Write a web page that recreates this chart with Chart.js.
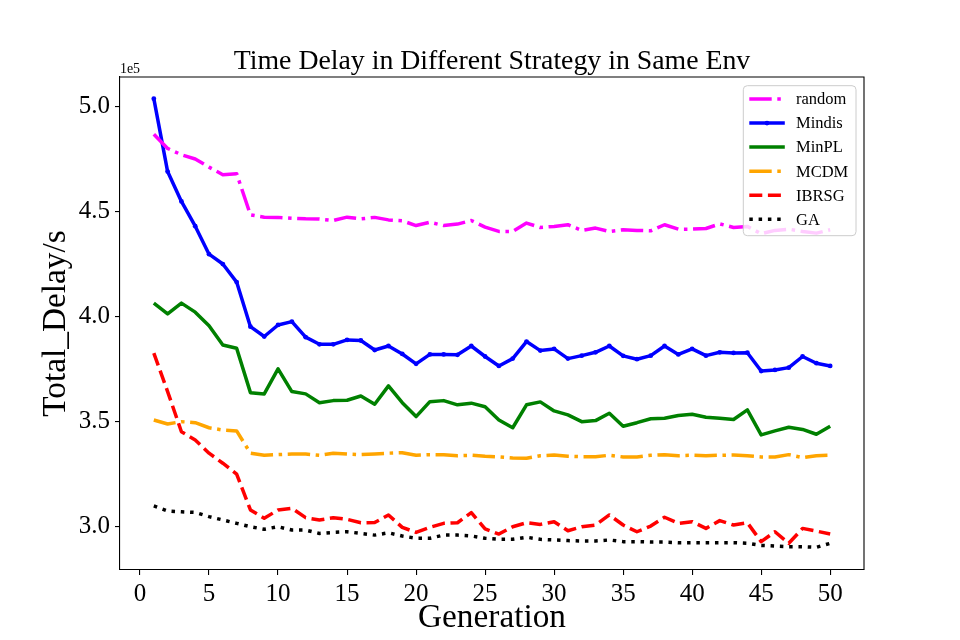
<!DOCTYPE html>
<html>
<head>
<meta charset="utf-8">
<script src="https://cdn.jsdelivr.net/npm/chart.js@4"></script>
<style>body{margin:0;background:#fff}</style>
</head>
<body>
<canvas id="chart" width="960" height="640"></canvas>
<script>
const titleText = 'Time Delay in Different Strategy in Same Env';
const generations = [1, 2, 3, 4, 5, 6, 7, 8, 9, 10, 11, 12, 13, 14, 15, 16, 17, 18, 19, 20,
	21, 22, 23, 24, 25, 26, 27, 28, 29, 30, 31, 32, 33, 34, 35, 36, 37, 38, 39, 40,
	41, 42, 43, 44, 45, 46, 47, 48, 49, 50];
const xTicks = [0, 5, 10, 15, 20, 25, 30, 35, 40, 45, 50];
const yTicks = [300000, 350000, 400000, 450000, 500000];

const random = [486800, 480000, 477000, 475000, 471100, 467500, 468000, 448400, 447300, 447200,
	446800, 446500, 446400, 445700, 447300, 446500, 447200, 446000, 445600, 443300,
	444900, 443300, 444000, 445700, 442600, 440500, 440500, 444500, 442400, 442900,
	443700, 441000, 442100, 440500, 441300, 441000, 440800, 443700, 441600, 441600,
	441900, 444100, 442400, 442900, 439400, 441000, 441600, 440500, 439700, 441300];
const mindis = [503700, 469000, 454800, 443000, 429700, 425000, 416400, 395200, 390500, 396000,
	397600, 390200, 386800, 386800, 388900, 388600, 384100, 386000, 382200, 377500,
	382000, 382000, 381800, 386000, 381000, 376500, 380000, 388100, 383800, 384600,
	380000, 381400, 383000, 386000, 381300, 379700, 381400, 386000, 382000, 384600,
	381400, 383000, 382700, 382800, 374100, 374600, 375700, 381000, 377800, 376500];
const minpl = [406400, 401300, 406400, 402100, 395600, 386500, 384900, 363800, 363200, 375100,
	364300, 363200, 359000, 360000, 360200, 362200, 358300, 367000, 359000, 352400,
	359500, 360000, 358000, 358800, 357100, 350800, 347100, 358000, 359400, 355100,
	353200, 350000, 350500, 354000, 347800, 349500, 351400, 351600, 352900, 353500,
	352100, 351600, 351000, 355600, 343700, 345600, 347300, 346300, 344000, 347800];
const mcdm = [350800, 348900, 350000, 349500, 347100, 346000, 345600, 335000, 334000, 334300,
	334600, 334600, 334000, 335000, 334600, 334300, 334600, 335000, 335200, 334000,
	334300, 334300, 333800, 334000, 333500, 333200, 332700, 332600, 333800, 334100,
	333500, 333300, 333300, 334000, 333200, 333200, 334000, 334300, 333800, 334000,
	333800, 334000, 334100, 333800, 333200, 333200, 334300, 332900, 333800, 334000];
const ibrsg = [382600, 364300, 345200, 341300, 335000, 330200, 325000, 308000, 304000, 308000,
	308800, 304300, 303200, 304300, 303500, 301900, 302000, 305600, 299700, 297300,
	299700, 301600, 301900, 306700, 299000, 296500, 300000, 301900, 301100, 302400,
	298100, 300000, 300800, 305600, 300800, 297600, 300300, 304500, 301600, 302400,
	299200, 302900, 300800, 301900, 292900, 297600, 292100, 299200, 297900, 296500];
const ga = [309900, 307500, 307100, 306800, 304800, 303200, 301600, 300000, 298800, 300000,
	298400, 298400, 296800, 297300, 297600, 296800, 296000, 297100, 295600, 294500,
	294500, 296000, 296000, 295600, 294500, 294000, 294000, 295000, 294000, 293700,
	293400, 293200, 293200, 293700, 292900, 292900, 292700, 292700, 292400, 292400,
	292400, 292400, 292400, 292100, 291100, 290800, 290500, 290500, 290200, 292100];

const serif = '"Liberation Serif", "Times New Roman", serif';

function pts(values) {
	return generations.map((g, i) => ({ x: g, y: values[i] }));
}

function serie(label, values, color, dash) {
	return {
		label: label,
		data: pts(values),
		borderColor: color,
		backgroundColor: color,
		borderWidth: 3.5,
		borderDash: dash,
		borderJoinStyle: 'round',
		pointRadius: 0,
		tension: 0,
	};
}

const datasets = [
	serie('random', random, '#ff00ff', [22.4, 5.6, 3.5, 5.6]),
	Object.assign(serie('Mindis', mindis, '#0000ff', []), { pointRadius: 2.4, pointBorderWidth: 0 }),
	serie('MinPL', minpl, '#008000', []),
	serie('MCDM', mcdm, '#ffa500', [22.4, 5.6, 3.5, 5.6]),
	serie('IBRSG', ibrsg, '#ff0000', [13, 5.6]),
	serie('GA', ga, '#000000', [3.5, 5.8]),
];

// axes frame, title, offset text and legend, drawn like matplotlib
const decor = {
	id: 'decor',
	afterDraw(chart) {
		const { ctx, chartArea: a } = chart;
		ctx.save();
		ctx.strokeStyle = '#000';
		ctx.lineWidth = 1.1;
		ctx.beginPath();
		ctx.moveTo(a.left, a.top);
		ctx.lineTo(a.right, a.top);
		ctx.lineTo(a.right, a.bottom);
		ctx.stroke();

		ctx.fillStyle = '#000';
		ctx.textAlign = 'center';
		ctx.textBaseline = 'alphabetic';
		ctx.font = '27.8px ' + serif;
		ctx.fillText(titleText, (a.left + a.right) / 2, a.top - 8.5);

		ctx.textAlign = 'left';
		ctx.font = '13.9px ' + serif;
		ctx.fillText('1e5', a.left, a.top - 4);

		const x0 = a.right - 120.7, y0 = a.top + 8.7, w = 112.7, h = 150;
		ctx.beginPath();
		ctx.roundRect(x0, y0, w, h, 4);
		ctx.fillStyle = 'rgba(255,255,255,0.8)';
		ctx.fill();
		ctx.strokeStyle = '#cccccc';
		ctx.lineWidth = 1;
		ctx.stroke();

		ctx.font = '16.5px ' + serif;
		ctx.textBaseline = 'middle';
		chart.data.datasets.forEach((ds, i) => {
			const y = y0 + 13.3 + i * 24.06;
			ctx.setLineDash(ds.borderDash || []);
			ctx.strokeStyle = ds.borderColor;
			ctx.lineWidth = ds.borderWidth;
			ctx.beginPath();
			ctx.moveTo(x0 + 6, y);
			ctx.lineTo(x0 + 41.5, y);
			ctx.stroke();
			ctx.setLineDash([]);
			if (ds.pointRadius > 0) {
				ctx.fillStyle = ds.borderColor;
				ctx.beginPath();
				ctx.arc(x0 + 23.7, y, ds.pointRadius, 0, Math.PI * 2);
				ctx.fill();
			}
			ctx.fillStyle = '#000';
			ctx.fillText(ds.label, x0 + 52.7, y + 1);
		});
		ctx.restore();
	},
};

new Chart(document.getElementById('chart'), {
	type: 'line',
	data: { datasets: datasets },
	options: {
		responsive: false,
		animation: false,
		devicePixelRatio: 1,
		layout: { padding: { left: 0, top: 77, right: 96, bottom: 0 } },
		plugins: {
			legend: { display: false },
			title: { display: false },
			tooltip: { enabled: false },
		},
		scales: {
			x: {
				type: 'linear',
				min: -1.45,
				max: 52.45,
				afterBuildTicks: (s) => { s.ticks = xTicks.map((v) => ({ value: v })); },
				afterFit: (s) => { s.height = 70; },
				ticks: {
					autoSkip: false,
					maxRotation: 0,
					padding: 4,
					color: '#000',
					font: { family: serif, size: 25 },
					callback: (v) => String(v),
				},
				grid: {
					display: true,
					drawOnChartArea: false,
					drawTicks: true,
					tickLength: 5,
					color: '#000',
					lineWidth: 1.1,
				},
				border: { display: true, color: '#000', width: 1.1 },
				title: {
					display: true,
					text: 'Generation',
					color: '#000',
					font: { family: serif, size: 33.3 },
					padding: { top: 0, bottom: 2 },
				},
			},
			y: {
				type: 'linear',
				min: 279400,
				max: 514000,
				afterBuildTicks: (s) => { s.ticks = yTicks.map((v) => ({ value: v })); },
				afterFit: (s) => { s.width = 120; },
				ticks: {
					padding: 5,
					color: '#000',
					font: { family: serif, size: 25 },
					callback: (v) => (v / 1e5).toFixed(1),
				},
				grid: {
					display: true,
					drawOnChartArea: false,
					drawTicks: true,
					tickLength: 5,
					color: '#000',
					lineWidth: 1.1,
				},
				border: { display: true, color: '#000', width: 1.1 },
				title: {
					display: true,
					text: 'Total_Delay/s',
					color: '#000',
					font: { family: serif, size: 33.3 },
					padding: { top: 36, bottom: 0 },
				},
			},
		},
	},
	plugins: [decor],
});
</script>
</body>
</html>
